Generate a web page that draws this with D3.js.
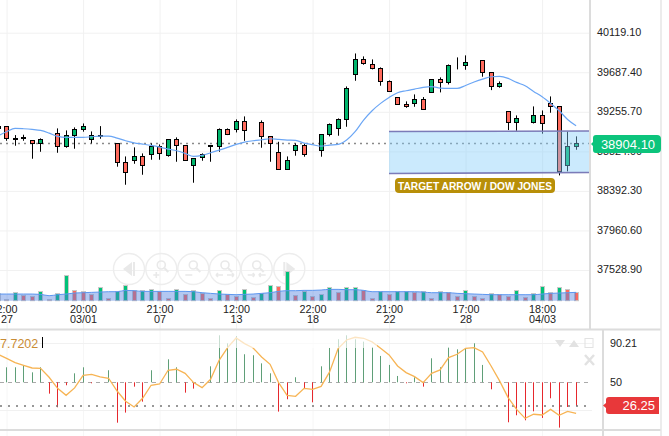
<!DOCTYPE html>
<html>
<head>
<meta charset="utf-8">
<script src="https://cdn.jsdelivr.net/npm/d3@7"></script>
<style>
  html, body { margin: 0; padding: 0; background: #fff; overflow: hidden; }
  text { font-family: "Liberation Sans", Arial, sans-serif; }
  .domain { display: none; }
</style>
</head>
<body>
<script>
var width = 669, height = 436;
var mainRight = 590, oscRight = 603;

// candles, first one is the half hidden bar at the left edge
var opens = [39065,39091,38960,38956,38938,38902,38949,39014,38872,38989,39055,38949,38985,38989,38902,38698,38720,38763,38785,38872,38774,38949,38883,38665,38752,38872,38872,39058,39058,39145,39047,39134,38982,38807,38621,38829,38883,38785,38829,39003,39069,39167,39658,39822,39767,39724,39582,39407,39331,39342,39385,39462,39604,39571,39757,39757,39800,39811,39680,39527,39254,39134,39167,39134,39211,39342,39309,38665,38872];
var highs = [39105,39091,38996,39000,38938,38960,38949,39069,39047,39080,39123,39036,39094,38989,38902,38763,38862,38796,38905,38894,38949,38971,38883,38741,38796,38883,39069,39069,39167,39200,39047,39156,38982,38923,38763,38905,38905,38785,39003,39123,39178,39527,39887,39855,39822,39735,39593,39407,39364,39440,39411,39604,39626,39767,39844,39866,39800,39811,39680,39582,39254,39211,39167,39309,39265,39418,39309,39036,38982];
var lows = [39051,38934,38880,38934,38738,38814,38949,38803,38858,38847,39033,38905,38956,38989,38651,38454,38683,38563,38727,38727,38760,38705,38720,38476,38716,38705,38814,38996,39025,38934,39047,38858,38705,38621,38621,38771,38760,38785,38760,38982,38989,39087,39589,39764,39713,39535,39473,39331,39294,39305,39276,39462,39462,39549,39713,39709,39800,39633,39487,39513,39051,39043,39167,39123,39011,39240,38556,38600,38836];
var closes = [39094,38956,38949,38971,38902,38949,38949,38872,38989,39058,39091,38989,38992,38989,38698,38589,38763,38665,38872,38796,38949,38880,38720,38741,38781,38883,39058,39003,39145,39047,39047,38982,38905,38621,38720,38883,38785,38785,39003,39113,39167,39505,39822,39778,39724,39582,39473,39331,39309,39385,39276,39604,39567,39757,39757,39789,39800,39680,39527,39560,39134,39178,39167,39211,39123,39309,38600,38872,38905];
var priceMa = [38989,39033,39069,39065,39058,39047,39018,38982,38971,38971,38971,38978,38985,38985,38963,38934,38912,38898,38883,38865,38843,38825,38796,38763,38774,38803,38832,38862,38894,38920,38934,38945,38956,38949,38942,38938,38909,38891,38876,38887,38894,38942,39033,39160,39262,39342,39407,39458,39480,39498,39516,39524,39509,39505,39505,39538,39575,39607,39633,39636,39615,39571,39535,39473,39415,39342,39262,39167,39098];

var volumes = [21,4,24,15,12,27,4,21,75,30,27,18,39,6,27,45,30,30,33,27,6,33,18,30,21,6,30,18,12,33,9,21,45,42,87,15,27,12,18,39,24,39,39,30,6,27,18,27,27,24,27,6,27,24,12,30,12,6,21,18,12,30,9,21,42,24,39,33,24];
var volumeUp = [1,0,1,0,0,1,0,1,1,0,0,0,1,0,1,1,0,1,1,0,0,1,0,1,0,0,1,0,0,1,0,1,1,0,1,0,1,0,1,1,0,1,1,0,0,1,0,1,1,0,1,0,1,0,0,1,0,0,1,0,0,1,0,1,1,0,1,0,0];
var volumeMa = [20,20,20,20,20,19,15,18,20,23,24,25,26,27,27,31,30,28,28,28,28,28,28,27,24,22,20,19,18,19,20,22,24,28,30,30,31,31,32,34,34,33,33,31,27,27,27,27,27,27,26,24,24,24,22,21,20,19,18,18,18,18,18,18,20,22,23,24,25];

var oscLine = [78.4,74.3,69.9,67.2,64.5,64.2,55.1,43.9,36.8,44.3,57.1,58.1,55.4,54.1,41.2,30.8,25.0,33.8,47.0,48.3,62.2,63.2,59.1,49.7,44.6,53.0,72.3,85.1,94.9,89.2,84.8,75.7,68.2,49.7,36.8,35.8,43.9,42.9,45.9,60.5,84.1,92.9,95.6,94.6,90.9,84.4,77.7,66.5,59.8,55.7,49.7,59.1,62.5,75.0,78.4,84.4,85.1,80.7,66.5,51.4,34.5,22.6,13.5,17.6,16.9,22.6,16.6,20.6,18.6];
var oscBars = [65.2,65.2,65.2,67.2,60.1,65.2,38.5,24.7,47.0,59.1,65.2,49.0,50,62.2,9.1,19.3,45.6,30.4,62.2,50,73.3,65.2,39.5,43.6,50,66.2,97.6,89.5,96.9,78.4,77.4,69.2,59.1,20.3,32.8,55.1,43.9,29.7,66.2,84.8,93.6,97.6,93.6,91.2,85.8,76.7,67.6,56.4,49.0,55.1,45.6,74.3,65.2,85.1,83.4,84.4,89.5,67.6,42.9,51.4,9.5,16.6,11.5,20.6,13.9,33.8,4.1,25.0,26.0];

var priceTicks = [40119.10,39687.40,39255.70,38824.00,38392.30,37960.60,37528.90];
var timeTicks = [1,10,19,28,37,46,55,64];
var timeLabels = ["2:00","20:00","21:00","12:00","22:00","21:00","17:00","18:00"];
var dateLabels = ["27","03/01","07","13","18","22","28","04/03"];
var oscTicks = [90.21,50];

var lastPrice = 38904.10, lastOsc = 26.25, oscBase = 50;

var svg = d3.select("body").append("svg")
  .attr("width", width).attr("height", height)
  .style("display", "block");

var x = d3.scaleLinear().domain([0, 68]).range([-1.9, 576.1]);
var y = d3.scaleLinear().domain([37528.9, 40119.1]).range([269.5, 32.2]);
var yVol = d3.scaleLinear().domain([0, 90]).range([300.7, 270.7]);
var yOsc = d3.scaleLinear().domain([0, 100]).range([431.66, 332.94]);

function cx(i) { return Math.floor(x(i)) + 0.5; }
function snap(v) { return Math.round(v - 0.5) + 0.5; }
var idx = d3.range(opens.length);

// grids
var gridColor = "#f1f1f1";
var gridY = svg.append("g").call(d3.axisRight(y).tickValues(priceTicks).tickSize(mainRight).tickFormat(""));
gridY.selectAll("line").attr("stroke", gridColor).attr("y1", 0.5).attr("y2", 0.5);
var gridX = svg.append("g").attr("transform", "translate(0,329)")
  .call(d3.axisTop(x).tickValues(timeTicks).tickSize(329).tickFormat(""));
gridX.selectAll("line").attr("stroke", gridColor);
var gridXOsc = svg.append("g").attr("transform", "translate(0,436)")
  .call(d3.axisTop(x).tickValues(timeTicks).tickSize(106).tickFormat(""));
gridXOsc.selectAll("line").attr("stroke", "#f6f6f6");
svg.append("g").selectAll("line").data([343.5, 410.5]).join("line")
  .attr("x1", 0).attr("x2", 592).attr("y1", function(d) { return d; }).attr("y2", function(d) { return d; })
  .attr("stroke", "#f1f1f1");

// zoom buttons
var buttons = svg.append("g").attr("fill", "none").attr("stroke", "#ededed").attr("stroke-width", 1.4);
var iconColor = "#e9e9e9";
[129, 161.3, 193.3, 225, 256.7, 289.3].forEach(function(bx, n) {
  var g = buttons.append("g").attr("transform", "translate(" + bx + ",269)");
  g.append("circle").attr("r", 15.5);
  if (n == 0) {
    g.append("path").attr("d", "M3,-7L-6,0L3,7Z").attr("fill", iconColor).attr("stroke", "none");
    g.append("rect").attr("x", 4).attr("y", -7).attr("width", 2).attr("height", 14).attr("fill", iconColor).attr("stroke", "none");
  } else if (n == 5) {
    g.append("path").attr("d", "M-3,-7L6,0L-3,7Z").attr("fill", iconColor).attr("stroke", "none");
    g.append("rect").attr("x", -6).attr("y", -7).attr("width", 2).attr("height", 14).attr("fill", iconColor).attr("stroke", "none");
  } else {
    g.append("circle").attr("cx", 0).attr("cy", -4).attr("r", 4).attr("stroke", iconColor).attr("stroke-width", 1.6);
    g.append("line").attr("x1", 3).attr("y1", -1).attr("x2", 7).attr("y2", 3).attr("stroke", iconColor).attr("stroke-width", 2);
    var mark = { 1: "M-8,6H-2M-5,3V9", 2: "M-8,6H-1", 3: "M-9,6H-2M-9,6l2,-2M-9,6l2,2M2,6H9M9,6l-2,-2M9,6l-2,2", 4: "M-9,6H-2M-2,6l-2,-2M-2,6l-2,2M2,6H9M2,6l2,-2M2,6l2,2" }[n];
    g.append("path").attr("d", mark).attr("stroke", iconColor).attr("stroke-width", 1.6);
  }
});

// volume
svg.append("g").selectAll("rect").data(idx).join("rect")
  .attr("x", function(i) { return cx(i) - 2; })
  .attr("width", 4)
  .attr("y", function(i) { return snap(yVol(volumes[i])); })
  .attr("height", function(i) { return yVol(0) - snap(yVol(volumes[i])); })
  .attr("fill", function(i) { return volumeUp[i] ? "#00c278" : "#ff6a5c"; })
  .attr("stroke", "#c9c9c9").attr("stroke-width", 1);

svg.append("path").datum(idx)
  .attr("d", d3.area().x(function(i) { return x(i); }).y0(yVol(0)).y1(function(i) { return yVol(volumeMa[i]); }).curve(d3.curveMonotoneX))
  .attr("fill", "rgba(75,125,225,0.42)");
svg.append("path").datum(idx)
  .attr("d", d3.line().x(function(i) { return x(i); }).y(function(i) { return yVol(volumeMa[i]); }).curve(d3.curveMonotoneX))
  .attr("fill", "none").attr("stroke", "#5d97f0").attr("stroke-width", 1);

// last price line
svg.append("line").attr("x1", 0).attr("x2", mainRight)
  .attr("y1", snap(y(lastPrice))).attr("y2", snap(y(lastPrice)))
  .attr("stroke", "#8a8a8a").attr("stroke-width", 1.4).attr("stroke-dasharray", "2 4");

// candles
var candles = svg.append("g").selectAll("g").data(idx).join("g");
candles.append("line")
  .attr("x1", cx).attr("x2", cx)
  .attr("y1", function(i) { return y(highs[i]); })
  .attr("y2", function(i) { return y(lows[i]); })
  .attr("stroke", "#000").attr("stroke-width", 1);
candles.append("rect")
  .attr("x", function(i) { return cx(i) - 2; })
  .attr("width", 4)
  .attr("y", function(i) { return snap(y(Math.max(opens[i], closes[i]))); })
  .attr("height", function(i) { return Math.max(0, snap(y(Math.min(opens[i], closes[i]))) - snap(y(Math.max(opens[i], closes[i])))); })
  .attr("fill", function(i) { return closes[i] >= opens[i] ? "#00b56c" : "#ff6a5c"; })
  .attr("stroke", function(i) { return highs[i] == lows[i] ? "#666" : "#000"; })
  .attr("stroke-width", 1);

svg.append("path").datum(idx)
  .attr("d", d3.line().x(function(i) { return x(i); }).y(function(i) { return y(priceMa[i]); }).curve(d3.curveMonotoneX))
  .attr("fill", "none").attr("stroke", "#6ba6f5").attr("stroke-width", 1.2);

// target channel, drawn over the candles
svg.append("path").attr("d", "M389,131.5L590,131L590,172.5L389,173.5Z")
  .attr("fill", "rgba(130,205,250,0.42)").attr("stroke", "none");
svg.append("path").attr("d", "M389,131.5L590,131").attr("stroke", "#7b7bb8").attr("stroke-width", 1.6).attr("fill", "none");
svg.append("path").attr("d", "M389,173.5L590,172.5").attr("stroke", "#7b7bb8").attr("stroke-width", 1.6).attr("fill", "none");
svg.append("rect").attr("x", 395).attr("y", 178).attr("width", 160).attr("height", 15).attr("rx", 4).attr("fill", "#b88f08");
svg.append("text").attr("x", 398).attr("y", 189.8).attr("fill", "#fff").attr("font-weight", "bold")
  .attr("font-size", 11.5).attr("textLength", 154).attr("lengthAdjust", "spacingAndGlyphs")
  .text("TARGET ARROW / DOW JONES");

// oscillator
svg.append("line").attr("x1", 0).attr("x2", mainRight).attr("y1", snap(yOsc(oscBase))).attr("y2", snap(yOsc(oscBase)))
  .attr("stroke", "#aaa").attr("stroke-dasharray", "4 4");
svg.append("g").selectAll("line").data(idx).join("line")
  .attr("x1", cx).attr("x2", cx)
  .attr("y1", yOsc(oscBase))
  .attr("y2", function(i) { return yOsc(oscBars[i]); })
  .attr("stroke", function(i) { return oscBars[i] >= oscBase ? "#5f9f78" : "#e6282d"; });
svg.append("line").attr("x1", 0).attr("x2", mainRight).attr("y1", 406).attr("y2", 406)
  .attr("stroke", "#777").attr("stroke-width", 1.4).attr("stroke-dasharray", "2 6");
svg.append("path").datum(idx)
  .attr("d", d3.line().x(function(i) { return x(i); }).y(function(i) { return yOsc(oscLine[i]); }))
  .attr("fill", "none").attr("stroke", "#f7b454").attr("stroke-width", 1.3);
svg.append("rect").attr("x", 217).attr("y", 331).attr("width", 160).attr("height", 17).attr("fill", "rgba(255,255,255,0.65)");

svg.append("text").attr("x", 0).attr("y", 347.5).attr("font-size", 12.5).attr("fill", "#c98c35").text("7.7202");
svg.append("rect").attr("x", 42).attr("y", 337).attr("width", 1).attr("height", 11).attr("fill", "#000");

// panel controls
var panelCtl = svg.append("g").attr("fill", "#e2e2e2");
panelCtl.append("path").attr("d", "M555,340h10l-5,7Z");
panelCtl.append("path").attr("d", "M569,347h10l-5,-7Z");
panelCtl.append("rect").attr("x", 585).attr("y", 338.5).attr("width", 8).attr("height", 9).attr("fill", "none").attr("stroke", "#e2e2e2");
panelCtl.append("path").attr("d", "M585,355L594,365M594,355L585,365").attr("stroke", "#e2e2e2").attr("stroke-width", 2.5);

// frame
var frame = "#dcdcdc";
svg.append("line").attr("x1", 0).attr("x2", 661).attr("y1", 329.5).attr("y2", 329.5).attr("stroke", frame).attr("stroke-width", 2);
svg.append("line").attr("x1", 0).attr("x2", 661).attr("y1", 430).attr("y2", 430).attr("stroke", frame).attr("stroke-width", 2);
svg.append("line").attr("x1", mainRight).attr("x2", mainRight).attr("y1", 0).attr("y2", 329).attr("stroke", frame).attr("stroke-width", 2);
svg.append("line").attr("x1", oscRight).attr("x2", oscRight).attr("y1", 330).attr("y2", 436).attr("stroke", frame).attr("stroke-width", 2);
svg.append("line").attr("x1", 661).attr("x2", 661).attr("y1", 0).attr("y2", 436).attr("stroke", "#e6e6e6").attr("stroke-width", 1.5);

// axes
var axisFont = 10.8, axisColor = "#222";
var priceAxis = svg.append("g").attr("transform", "translate(597,0)")
  .call(d3.axisRight(y).tickValues(priceTicks).tickSize(0).tickPadding(0).tickFormat(d3.format(".2f")));
priceAxis.selectAll("text").attr("font-size", axisFont).attr("fill", axisColor).style("font-family", "Liberation Sans");

var timeAxis = svg.append("g").attr("transform", "translate(0,305)")
  .call(d3.axisBottom(x).tickValues(timeTicks).tickSize(0).tickPadding(0)
    .tickFormat(function(d) { return timeLabels[timeTicks.indexOf(d)]; }));
timeAxis.selectAll("text").attr("font-size", axisFont).attr("fill", axisColor).style("font-family", "Liberation Sans")
  .each(function(d) {
    d3.select(this).append("tspan").attr("x", 0).attr("dy", "0.95em").text(dateLabels[timeTicks.indexOf(d)]);
  });

var oscAxis = svg.append("g").attr("transform", "translate(610,0)")
  .call(d3.axisRight(yOsc).tickValues(oscTicks).tickSize(0).tickPadding(0).tickFormat(function(d) { return String(d); }));
oscAxis.selectAll("text").attr("font-size", axisFont).attr("fill", axisColor).style("font-family", "Liberation Sans");

// value badges
var priceBadge = svg.append("g");
priceBadge.append("path").attr("d", "M593,138a3,3 0 0 1 3,-3H657a4,4 0 0 1 4,4V149a4,4 0 0 1 -4,4H596a3,3 0 0 1 -3,-3V146l-2,-2l2,-2Z").attr("fill", "#0cc47c");
priceBadge.append("text").attr("x", 628).attr("y", 148.5).attr("text-anchor", "middle").attr("fill", "#fff").attr("font-size", 13)
  .text(d3.format(".2f")(lastPrice));
var oscBadge = svg.append("g");
oscBadge.append("path").attr("d", "M606,400a3,3 0 0 1 3,-3H659V414H609a3,3 0 0 1 -3,-3V408l-3,-2.5l3,-2.5Z").attr("fill", "#e8383a");
oscBadge.append("text").attr("x", 655).attr("y", 410).attr("text-anchor", "end").attr("fill", "#fff").attr("font-size", 13)
  .text(d3.format(".2f")(lastOsc));
</script>
</body>
</html>
